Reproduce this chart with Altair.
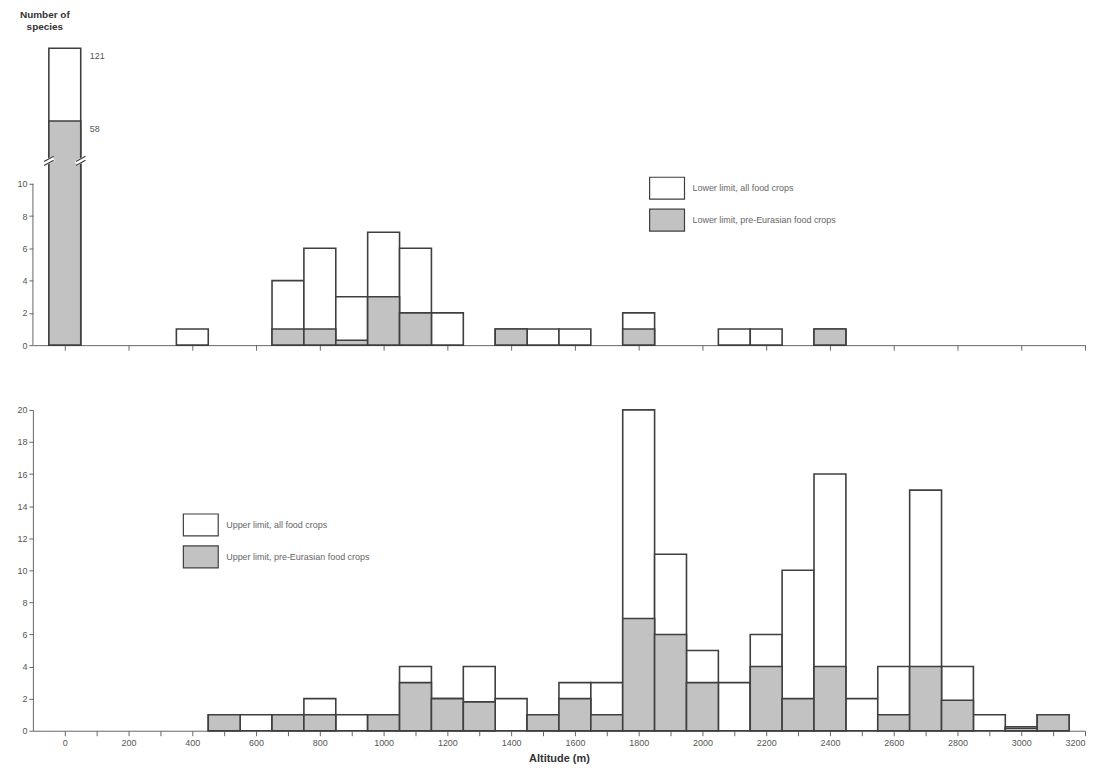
import altair as alt
import pandas as pd

# ---------------- data ----------------
top_altitude = [0, 400, 700, 800, 900, 1000, 1100, 1200, 1400, 1500, 1600, 1800, 2100, 2200, 2400]
top_all = [121, 1, 4, 6, 3, 7, 6, 2, 1, 1, 1, 2, 1, 1, 1]
top_pre = [58, 0, 1, 1, 0.3, 3, 2, 0, 1, 0, 0, 1, 0, 0, 1]

bottom_altitude = [500, 600, 700, 800, 900, 1000, 1100, 1200, 1300, 1400, 1500, 1600, 1700,
                   1800, 1900, 2000, 2100, 2200, 2300, 2400, 2500, 2600, 2700, 2800, 2900,
                   3000, 3100]
bottom_all = [1, 1, 1, 2, 1, 1, 4, 2, 4, 2, 1, 3, 3,
              20, 11, 5, 3, 6, 10, 16, 2, 4, 15, 4, 1,
              0.25, 1]
bottom_pre = [1, 0, 1, 1, 0, 1, 3, 2, 1.8, 0, 1, 2, 1,
              7, 6, 3, 0, 4, 2, 4, 0, 1, 4, 1.9, 0,
              0.15, 1]

top_labels = ["Lower limit, all food crops", "Lower limit, pre-Eurasian food crops"]
bottom_labels = ["Upper limit, all food crops", "Upper limit, pre-Eurasian food crops"]

x_ticks = [0, 100, 200, 300, 400, 500, 600, 700, 800, 900, 1000, 1100, 1200, 1300, 1400, 1500,
           1600, 1700, 1800, 1900, 2000, 2100, 2200, 2300, 2400, 2500, 2600, 2700, 2800, 2900,
           3000, 3100, 3200]
top_y_ticks = [0, 2, 4, 6, 8, 10]
bottom_y_ticks = [0, 2, 4, 6, 8, 10, 12, 14, 16, 18, 20]

# broken-axis section of the top panel
top_break_domain = [0, 10, 58, 121]
break_levels = [24, 28]

# ---------------- styling ----------------
BIN = 100
GREY = "#c2c2c2"
STROKE = "#3f3f3f"
AXIS = "#666666"
LABEL = "#555555"
FONT = "Liberation Sans"
W = 1056
TOP_H = 300
BOT_H = 322

x_scale = alt.Scale(domain=[-100, 3200], nice=False, zero=False, padding=0)
RECT = "M-1,-0.63L1,-0.63L1,0.63L-1,0.63Z"
NO_VIEW = alt.ViewBackground(stroke="transparent", strokeWidth=0)


def make_df(alts, alls, pres, labels):
    rows = []
    for a, v in zip(alts, alls):
        rows.append(dict(start=a - BIN / 2, end=a + BIN / 2, base=0, value=v, series=labels[0]))
    for a, v in zip(alts, pres):
        if v > 0:
            rows.append(dict(start=a - BIN / 2, end=a + BIN / 2, base=0, value=v, series=labels[1]))
    return pd.DataFrame(rows)


def bars(df, labels, y_scale, y_axis, x_axis, lx, ly):
    fill = alt.Fill(
        "series:N",
        scale=alt.Scale(domain=labels, range=["white", GREY]),
        legend=alt.Legend(
            title=None, orient="none", legendX=lx, legendY=ly,
            symbolType=RECT, symbolSize=1225, symbolStrokeColor=STROKE,
            symbolStrokeWidth=1.2, labelFontSize=9, labelColor="#666666",
            labelFont=FONT, labelOffset=7, rowPadding=-2,
        ),
    )
    base = alt.Chart(df).mark_bar(stroke=STROKE, strokeWidth=1.6).encode(
        x=alt.X("start:Q", scale=x_scale, axis=x_axis),
        x2="end:Q",
        y=alt.Y("value:Q", scale=y_scale, axis=y_axis, stack=None),
        y2="base:Q",
        fill=fill,
    )
    white = base.transform_filter(alt.datum.series == labels[0])
    grey = base.transform_filter(alt.datum.series == labels[1])
    return white + grey


# ---------------- top panel ----------------
top_df = make_df(top_altitude, top_all, top_pre, top_labels)
top_y_scale = alt.Scale(domain=top_break_domain, range=[TOP_H, TOP_H - 162, TOP_H - 225, 2],
                        nice=False, zero=False, padding=0)
top_y_axis = alt.Axis(values=top_y_ticks, domain=False, title=None, grid=False,
                      labelFontSize=9, labelColor=LABEL, tickColor=AXIS, tickSize=4,
                      minExtent=22, maxExtent=22)
top_x_axis = alt.Axis(values=x_ticks, labels=False, title=None, grid=False, tickSize=5,
                      domainColor=AXIS, tickColor=AXIS)

top_bars = bars(top_df, top_labels, top_y_scale, top_y_axis, top_x_axis, 618, 124)

axis_line = alt.Chart(pd.DataFrame({"y0": [top_y_ticks[0]], "y1": [top_y_ticks[-1]]})).mark_rule(
    color=AXIS, strokeWidth=1
).encode(x=alt.value(0), y=alt.Y("y0:Q", scale=top_y_scale), y2="y1:Q")

edges = [top_altitude[0] - BIN / 2, top_altitude[0] + BIN / 2]
gap_df = pd.DataFrame({
    "x0": [e - 15 for e in edges], "x1": [e + 15 for e in edges],
    "y0": [break_levels[0] + 1.5] * 2, "y1": [break_levels[1] + 1.5] * 2,
})
line_rows = []
for e in edges:
    for off in (0, 3):
        line_rows.append(dict(x0=e - 15, x1=e + 15, y0=break_levels[0] + off, y1=break_levels[1] + off))
line_df = pd.DataFrame(line_rows)

gap = alt.Chart(gap_df).mark_rule(color="white", strokeWidth=5).encode(
    x=alt.X("x0:Q", scale=x_scale), x2="x1:Q",
    y=alt.Y("y0:Q", scale=top_y_scale), y2="y1:Q")
brk = alt.Chart(line_df).mark_rule(color=STROKE, strokeWidth=1.2).encode(
    x=alt.X("x0:Q", scale=x_scale), x2="x1:Q",
    y=alt.Y("y0:Q", scale=top_y_scale), y2="y1:Q")

ann_df = pd.DataFrame({"x": [top_altitude[0] + BIN / 2] * 2,
                       "y": [top_all[0], top_pre[0]],
                       "t": [str(top_all[0]), str(top_pre[0])]})
ann = alt.Chart(ann_df).mark_text(align="left", baseline="top", dx=9, dy=4, fontSize=9,
                                  color=LABEL, font=FONT).encode(
    x=alt.X("x:Q", scale=x_scale), y=alt.Y("y:Q", scale=top_y_scale), text="t:N")

top = alt.layer(top_bars, axis_line, gap, brk, ann).properties(
    width=W, height=TOP_H, view=NO_VIEW,
    title=alt.TitleParams(["Number of", "species"], anchor="start", align="center", dx=12,
                          fontSize=10, fontWeight="bold", color="#333333", font=FONT,
                          offset=14, lineHeight=12, frame="group"),
)

# ---------------- bottom panel ----------------
bot_df = make_df(bottom_altitude, bottom_all, bottom_pre, bottom_labels)
bot_y_scale = alt.Scale(domain=[0, 20], nice=False, padding=0)
bot_y_axis = alt.Axis(values=bottom_y_ticks, title=None, grid=False, labelFontSize=9,
                      labelColor=LABEL, tickColor=AXIS, domainColor=AXIS, tickSize=4,
                      minExtent=22, maxExtent=22)
bot_x_axis = alt.Axis(values=x_ticks, format="d",
                      labelExpr="datum.value % 200 === 0 ? datum.label : ''",
                      labelOverlap=False, title="Altitude (m)", titleFontSize=11,
                      titleFontWeight="bold", titleColor="#333333", titlePadding=5,
                      labelFontSize=9, labelColor=LABEL, labelPadding=3, grid=False,
                      tickSize=5, domainColor=AXIS, tickColor=AXIS)

bottom = bars(bot_df, bottom_labels, bot_y_scale, bot_y_axis, bot_x_axis, 150, 97).properties(
    width=W, height=BOT_H, view=NO_VIEW)

chart = alt.vconcat(top, bottom, spacing=55).resolve_scale(
    fill="independent", y="independent"
).resolve_legend(fill="independent").properties(
    padding={"left": 3, "top": 1, "right": 0, "bottom": 0}
).configure_view(stroke="transparent", strokeWidth=0).configure(font=FONT)

chart.save("out.html", embed_options={"renderer": "svg", "actions": False})
